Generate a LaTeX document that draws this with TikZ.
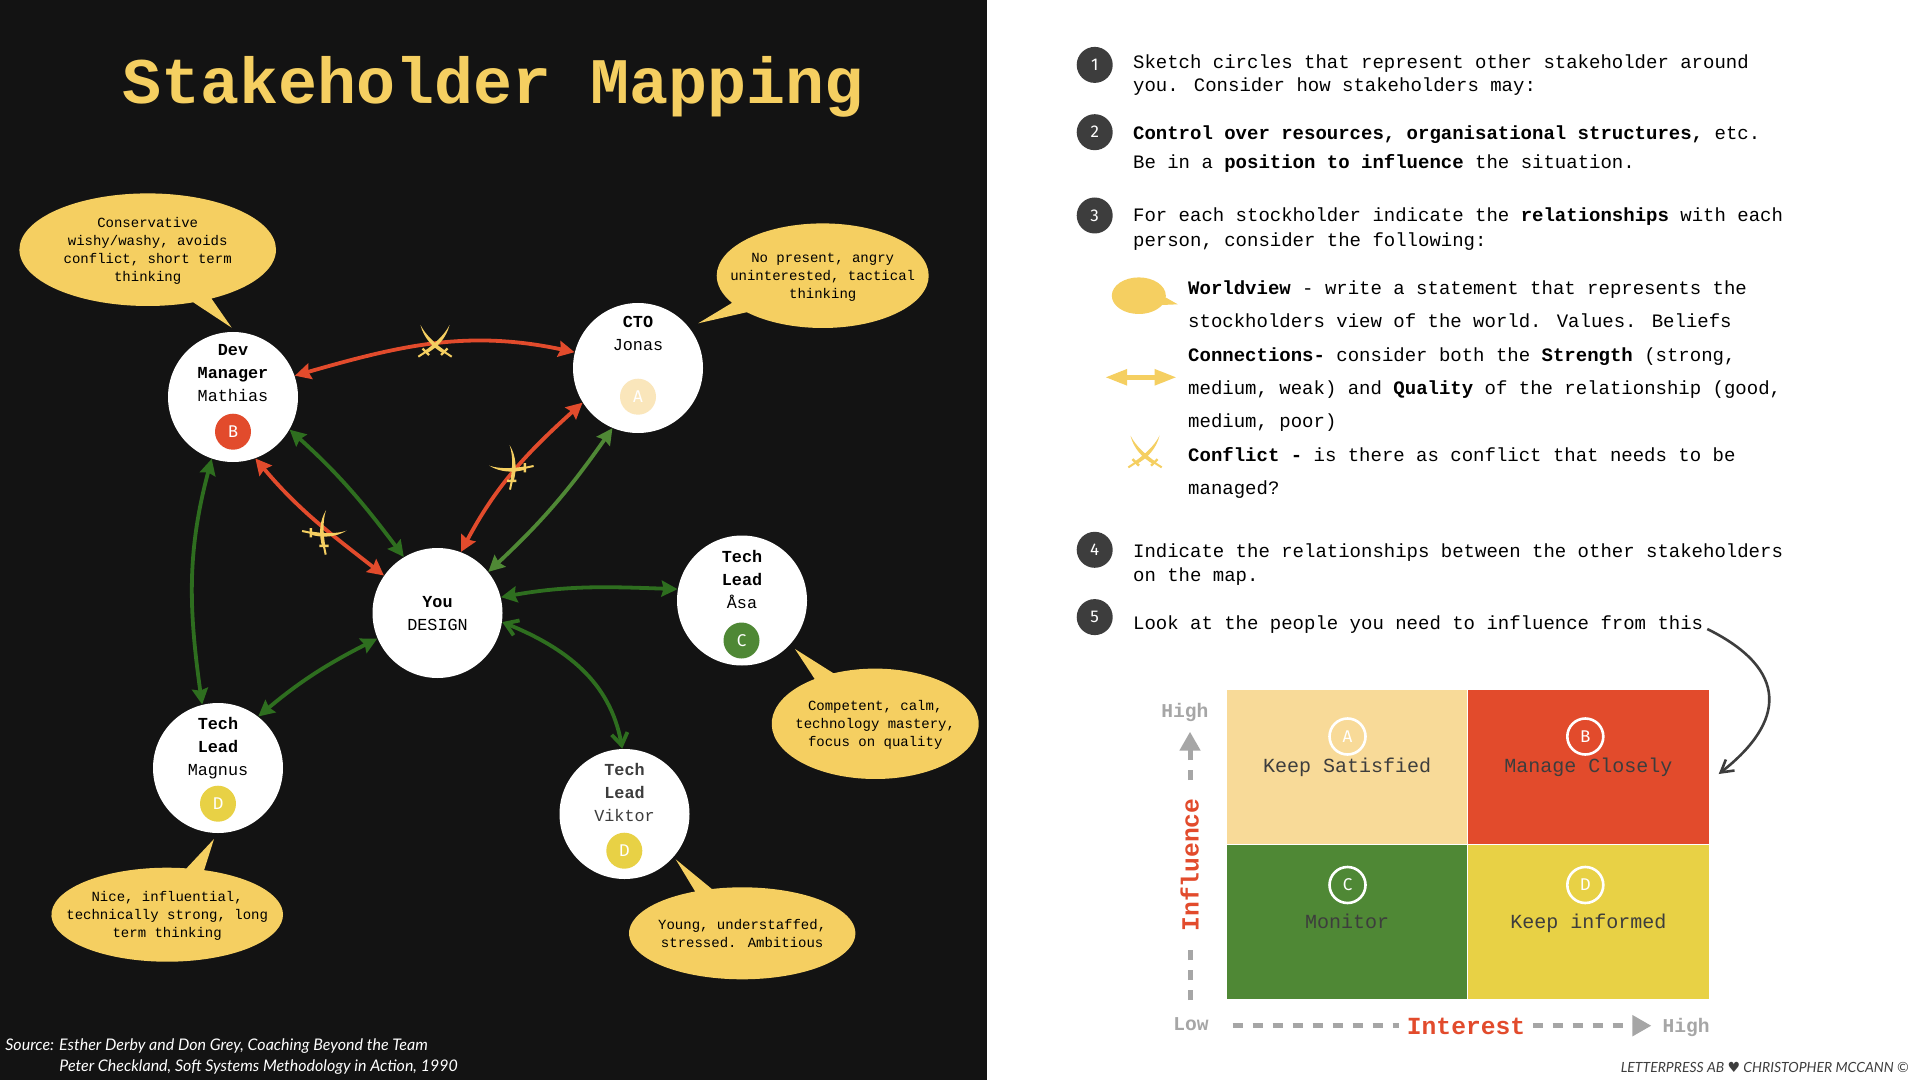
\documentclass[tikz,border=0pt]{standalone}
\usepackage{fontspec}
\setmainfont{Liberation Mono}
\setmonofont{Liberation Mono}
\newfontfamily\srcfont{Lato}
\newfontfamily\badgefont{Fira Sans}
\newfontfamily\symfont{DejaVu Sans}
\usepackage{xcolor}
\usepackage{tikz}
\usetikzlibrary{arrows.meta,positioning,calc,shapes.geometric,shapes.callouts}
\definecolor{ink}{HTML}{131313}
\definecolor{gold}{HTML}{F5CF61}
\definecolor{redq}{HTML}{E24B2C}
\definecolor{greenq}{HTML}{4F8835}
\definecolor{greendk}{HTML}{2E6E1F}
\definecolor{yellowq}{HTML}{E8D145}
\definecolor{sandq}{HTML}{F8DA98}
\definecolor{sandlt}{HTML}{FAE6BB}
\definecolor{slate}{HTML}{3D3D3D}
\definecolor{axisgray}{HTML}{A6A6A6}

\begin{document}
\begin{tikzpicture}[x=0.5pt,y=-0.5pt,
  person/.style={circle, fill=white, inner sep=0pt, minimum size=65pt},
  perstxt/.style={align=center, text=black, font=\fontsize{8.4}{11.5}\selectfont},
  badge/.style={circle, inner sep=0pt, minimum size=18pt, text=white, font=\fontsize{8.5}{10}\badgefont},
  ring/.style={badge, draw=white, line width=1.3pt, minimum size=18pt},
  bubble/.style={ellipse callout, fill=gold, inner sep=0pt, callout pointer arc=9},
  bubtxt/.style={align=center, text=black, font=\fontsize{7}{9}\selectfont},
  redlink/.style={{Stealth[length=8pt,width=8pt,inset=1pt]}-{Stealth[length=8pt,width=8pt,inset=1pt]}, draw=redq, line width=1.9pt},
  greenlink/.style={redlink, draw=greendk},
  lightlink/.style={redlink, draw=greenq},
  openlink/.style={{Straight Barb[length=6pt,width=8pt]}-{Straight Barb[length=6pt,width=8pt]}, draw=greendk, line width=1.9pt},
  numdot/.style={circle, fill=slate, text=white, inner sep=0pt, minimum size=18pt, font=\fontsize{8.5}{10}\badgefont},
  para/.style={anchor=west, align=left, text=black, inner sep=0pt},
  quad/.style={rectangle, inner sep=0pt, minimum width=120.2pt, minimum height=77.2pt, text=slate, text height=6.7pt, text depth=0pt, font=\fontsize{10}{12}\selectfont},
  quadtop/.style={quad, text height=5.5pt},
  axislab/.style={text=axisgray, font=\fontsize{9.8}{12}\selectfont\bfseries},
  axisname/.style={fill=white, text=redq, font=\fontsize{12.3}{14}\selectfont\bfseries},
  axisline/.style={-{Triangle[length=9.5pt,width=10pt]}, draw=axisgray, line width=2.5pt, dash pattern=on 5pt off 5pt},
  swords/.pic={
    \foreach \s in {1,-1} {
      \begin{scope}[xscale=\s]
        \fill[gold] (-10.5,10) .. controls (-2,4) and (9,-5) .. (14.5,-16) .. controls (11.5,-3.5) and (2.5,6.5) .. (-8.5,12.5) -- cycle;
        \draw[gold, line width=1.2pt] (-12.5,7.5) -- (-6,14);
        \draw[gold, line width=1pt] (-9.5,11) -- (-16.7,15.7);
      \end{scope}
    }
  }
]
\useasboundingbox (0,0) rectangle (1920,1080);
\fill[white] (0,0) rectangle (1920,1080);
\fill[ink] (0,0) rectangle (987,1080);

\node[text=gold, font=\fontsize{32.5}{36}\selectfont\bfseries] (title) at (493,87) {Stakeholder Mapping};

\node[person] (dev) at (233,397) {};
\node[person] (cto) at (638,368) {};
\node[person] (you) at (437.5,613) {};
\node[person] (asa) at (742,600.5) {};
\node[person] (mag) at (218,768) {};
\node[person] (vik) at (624.5,814) {};

\node[perstxt] (devt) at (233,373) {\textbf{Dev}\\\textbf{Manager}\\Mathias};
\node[perstxt] (ctot) at (638,333.5) {\textbf{CTO}\\Jonas};
\node[perstxt] (yout) at (437.5,614) {\textbf{You}\\DESIGN};
\node[perstxt] (asat) at (742,579.5) {\textbf{Tech}\\\textbf{Lead}\\Åsa};
\node[perstxt] (magt) at (218,748) {\textbf{Tech}\\\textbf{Lead}\\Magnus};
\node[perstxt, text=slate] (vikt) at (624.5,792.5) {\textbf{Tech}\\\textbf{Lead}\\Viktor};

\node[badge, fill=redq] (devb) at (233,431.7) {B};
\node[badge, fill=sandlt] (ctob) at (638,396.7) {A};
\node[badge, fill=greenq] (asab) at (741.5,640.5) {C};
\node[badge, fill=yellowq] (magb) at (218,803.7) {D};
\node[badge, fill=yellowq] (vikb) at (624.3,850.7) {D};

\node[bubble, minimum width=128.3pt, minimum height=56.3pt, callout absolute pointer={(231.7,327.7)}] (devw) at (147.7,249.7) {};
\node[bubble, minimum width=106pt, minimum height=52.3pt, callout pointer arc=13, callout absolute pointer={(698.2,323.3)}] (ctow) at (822.7,275.7) {};
\node[bubble, minimum width=103.5pt, minimum height=55.2pt, callout pointer arc=12, callout absolute pointer={(795,649)}] (asaw) at (875.2,723.8) {};
\node[bubble, minimum width=113.2pt, minimum height=46pt, callout absolute pointer={(675.7,859.3)}] (vikw) at (742.2,933.3) {};
\node[bubble, minimum width=115.8pt, minimum height=47pt, callout absolute pointer={(214,839)}] (magw) at (167.2,914.7) {};

\node[bubtxt] (devwt) at (147.7,250.7) {Conservative\\wishy/washy, avoids\\conflict, short term\\thinking};
\node[bubtxt] (ctowt) at (822.7,277.2) {No present, angry\\uninterested, tactical\\thinking};
\node[bubtxt] (asawt) at (875.2,725.2) {Competent, calm,\\technology mastery,\\focus on quality};
\node[bubtxt] (vikwt) at (742.2,933.5) {Young, understaffed,\\stressed. Ambitious};
\node[bubtxt] (magwt) at (167.2,915.7) {Nice, influential,\\technically strong, long\\term thinking};

\draw[redlink] (dev.19) to[out=16,in=168] (cto.166);
\draw[redlink] (dev.-70.5) to[out=-50,in=142] (you.145);
\draw[redlink] (you.69) to[out=62,in=222] (cto.212);
\foreach \a/\as/\o/\i/\b/\bs in {dev/-109/-105/98/mag/104, dev/-30/-42/127/you/121, you/14/10/178/asa/170, you/203/207/40/mag/52}
  \draw[greenlink] (\a.\as) to[out=\o,in=\i] (\b.\bs);
\draw[openlink] (you.-8) to[out=-22,in=100] (vik.92);
\draw[lightlink] (you.39) to[out=43,in=235] (cto.247);

\pic at (435,341) {swords};
\pic[rotate=-45] at (325,531.7) {swords};
\pic[rotate=45] at (510.7,466.7) {swords};

\node[numdot] (n1) at (1094.7,64.9) {1};
\node[numdot] (n2) at (1094.7,132.2) {2};
\node[numdot] (n3) at (1094.7,215.5) {3};
\node[numdot] (n4) at (1094.7,549.8) {4};
\node[numdot] (n5) at (1094.7,617.1) {5};

\node[para, font=\fontsize{9.5}{11.7}\selectfont] (p1) at (1132.7,75.3) {Sketch circles that represent other stakeholder around\\you. Consider how stakeholders may:};
\node[para, font=\fontsize{9.5}{14.7}\selectfont] (p2) at (1132.7,149.3) {\textbf{Control over resources, organisational structures,} etc.\\Be in a \textbf{position to influence} the situation.};
\node[para, font=\fontsize{9.5}{12.2}\selectfont] (p3) at (1132.7,229) {For each stockholder indicate the \textbf{relationships} with each\\person, consider the following:};
\node[para, font=\fontsize{9.5}{16.7}\selectfont] (p3a) at (1187.8,389.5) {\textbf{Worldview} - write a statement that represents the\\stockholders view of the world. Values. Beliefs\\\textbf{Connections-} consider both the \textbf{Strength} (strong,\\medium, weak) and \textbf{Quality} of the relationship (good,\\medium, poor)\\\textbf{Conflict -} is there as conflict that needs to be\\managed?};
\node[para, font=\fontsize{9.5}{12.2}\selectfont] (p4) at (1132.7,564.3) {Indicate the relationships between the other stakeholders\\on the map.};
\node[para, font=\fontsize{9.5}{12}\selectfont] (p5) at (1132.7,624.5) {Look at the people you need to influence from this};

\node[ellipse callout, fill=gold, inner sep=0pt, minimum width=27pt, minimum height=18.3pt, callout pointer arc=25, callout absolute pointer={(1177.7,304.3)}] (legw) at (1138.8,295.7) {};
\coordinate (legl) at (1105,377.3);
\coordinate (legr) at (1176.7,377.3);
\draw[{Triangle[length=11pt,width=7.5pt]}-{Triangle[length=11pt,width=7.5pt]}, draw=gold, line width=2.5pt] (legl) -- (legr);
\pic at (1145,451.7) {swords};

\node[quadtop, fill=sandq] (qa) at (1347.1,767) {Keep Satisfied};
\node[quadtop, fill=redq, right=0pt of qa] (qb) {Manage Closely};
\node[quad, fill=greenq, below=0pt of qa] (qc) {Monitor};
\node[quad, fill=yellowq, right=0pt of qc] (qd) {Keep informed};

\node[ring] (ra) at (1347.5,736.5) {A};
\node[ring] (rb) at (1585.3,736.5) {B};
\node[ring] (rc) at (1347.5,885) {C};
\node[ring] (rd) at (1585.3,885) {D};

\coordinate (yb) at (1190,1000);
\coordinate (yt) at (1190,731.7);
\coordinate (xl) at (1232.6,1025.7);
\coordinate (xr) at (1651.4,1025.7);
\draw[axisline] (yb) -- (yt);
\draw[axisline] (xl) -- (xr);
\node[axisname, rotate=90, inner xsep=9pt, inner ysep=2pt] (infl) at (1189.7,865) {Influence};
\node[axisname, inner xsep=4pt, inner ysep=2pt] (intr) at (1466,1026.7) {Interest};
\node[axislab] (yhi) at (1184.8,712) {High};
\node[axislab] (xlo) at (1191,1024) {Low};
\node[axislab] (xhi) at (1686,1027) {High};

\coordinate (cs) at (1707.3,629);
\coordinate (ce) at (1718.7,774);
\draw[-{Straight Barb[length=6pt,width=7pt]}, draw=slate, line width=1.3pt] (cs) .. controls (1790,670) and (1785,722) .. (ce);

\node[anchor=west, inner sep=0pt, text=white, font=\fontsize{8}{11}\srcfont\itshape] (src1) at (5,1045.7) {Source: Esther Derby and Don Grey, Coaching Beyond the Team};
\node[anchor=west, inner sep=0pt, text=white, font=\fontsize{8}{11}\srcfont\itshape] (src2) at (59,1067.4) {Peter Checkland, Soft Systems Methodology in Action, 1990};
\node[anchor=east, inner sep=0pt, text=slate, font=\fontsize{7}{8}\srcfont\itshape] (foot) at (1909,1067.7) {LETTERPRESS AB\ {\symfont ♥}\ CHRISTOPHER MCCANN ©};
\end{tikzpicture}
\end{document}
